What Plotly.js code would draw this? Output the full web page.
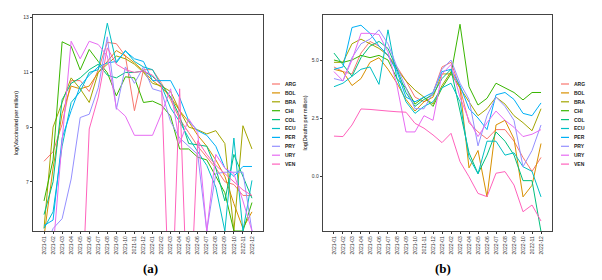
<!DOCTYPE html>
<html><head><meta charset="utf-8">
<script src="https://cdn.plot.ly/plotly-3.0.1.min.js"></script>
<style>html,body{margin:0;padding:0;background:#fff}#chart{width:602px;height:280px}</style>
</head><body><div id="chart"></div>
<script>
const months = ["2021-01","2021-02","2021-03","2021-04","2021-05","2021-06","2021-07","2021-08","2021-09","2021-10","2021-11","2021-12",
                "2022-01","2022-02","2022-03","2022-04","2022-05","2022-06","2022-07","2022-08","2022-09","2022-10","2022-11","2022-12"];
const countries = ["ARG","BOL","BRA","CHI","COL","ECU","PER","PRY","URY","VEN"];
const colors = ["#F8766D","#D89000","#A3A500","#39B600","#00BF7D","#00BFC4","#00B0F6","#9590FF","#E76BF3","#FF62BC"];

// (a) log(Vaccinated per million)
const vaxARG = [7.75,8.1,9.1,10.7,10.7,10.3,11.1,12.1,12.05,11.6,9.6,11.1,11.1,10.6,10.0,9.3,8.8,8.3,7.9,7.5,7.0,6.9,6.5,6.5];
const vaxBOL = [5.0,7.5,9.5,10.5,10.4,10.5,11.0,11.4,11.8,11.6,11.35,11.05,10.7,10.45,10.1,9.6,9.2,8.7,8.3,7.8,7.2,6.2,5.3,5.9];
const vaxBRA = [5.3,9.0,9.9,10.8,10.4,9.9,11.0,11.3,11.6,11.5,11.3,11.0,10.6,10.5,10.3,9.6,9.0,8.9,8.75,8.87,8.4,5.2,9.05,8.2];
const vaxCHI = [6.3,7.8,12.12,11.96,11.09,11.84,11.4,10.99,10.14,10.84,10.8,9.9,9.95,9.8,9.4,8.2,8.2,7.9,7.8,7.2,6.6,5.2,5.2,6.24];
const vaxCOL = [5.8,7.0,10.0,10.6,10.8,11.1,11.3,10.9,10.8,11.0,11.0,11.05,10.85,10.55,10.1,9.4,8.4,8.35,8.3,7.5,6.3,8.0,7.2,6.4];
const vaxECU = [5.3,5.9,8.3,9.9,10.3,11.0,11.1,12.8,11.35,11.8,11.4,11.2,11.1,10.5,9.7,9.2,8.6,8.1,7.6,6.8,5.2,8.6,5.2,7.05];
const vaxPER = [5.4,5.6,8.6,9.6,10.5,10.9,11.2,11.35,11.4,11.78,11.5,11.4,10.7,10.7,10.7,10.08,9.23,8.87,8.7,8.3,7.5,7.2,7.56,7.56];
const vaxPRY = [4.5,5.29,5.65,7.1,9.35,9.47,10.44,12.3,9.65,11.2,10.6,11.2,10.4,10.3,9.2,8.6,8.3,8.0,5.2,7.3,7.35,7.35,7.35,5.2];
const vaxURY = [4.5,4.5,8.5,12.14,11.5,12.14,12.02,11.6,9.7,9.4,8.7,8.7,8.7,9.5,10.4,8.4,9.3,8.8,5.2,8.0,7.5,7.3,6.3,5.2];
const vaxVEN = [1,1,1,1,1,8.93,10.1,11.9,11.3,11.1,11.0,11.05,10.9,10.5,1,10.4,1,8.5,8.0,7.6,7.3,7.0,6.7,6.5];

// (b) log(Deaths per million)
const dthARG = [4.7,4.5,4.4,5.3,5.8,5.6,5.2,4.7,4.1,3.4,3.2,3.6,4.7,4.9,3.8,2.3,1.9,1.6,2.0,2.0,1.5,0.8,0.2,0.8];
const dthBOL = [4.6,4.5,3.9,4.2,4.9,5.1,4.6,4.0,3.3,2.8,3.2,3.4,4.4,4.4,3.8,0.35,1.1,-0.9,2.2,2.4,1.6,-0.9,-0.4,1.4];
const dthBRA = [4.9,4.9,5.7,5.9,5.7,5.5,5.2,4.6,4.1,3.7,3.4,3.1,3.9,4.5,3.8,3.2,2.6,2.9,3.4,3.1,2.6,2.3,1.95,2.9];
const dthCHI = [5.0,4.9,5.0,5.2,5.1,5.2,5.0,4.2,3.8,3.1,3.4,3.0,3.8,4.4,6.54,3.85,3.06,3.35,4.0,3.8,3.6,3.28,3.6,3.6];
const dthCOL = [5.3,4.8,4.3,5.1,5.6,5.8,5.5,4.6,3.6,3.0,3.3,3.5,4.2,4.6,2.8,1.0,0.1,0.9,1.9,1.5,0.9,-0.2,-0.2,-2.4];
const dthECU = [3.85,4.0,4.3,4.6,4.7,3.95,6.3,4.2,3.2,2.7,3.0,3.2,3.8,4.0,3.2,0.8,0.1,1.5,1.5,0.9,1.0,0.4,0.2,-0.9];
const dthPER = [4.6,4.7,6.4,6.5,6.15,5.6,5.2,4.5,3.4,3.2,3.4,3.6,4.5,4.6,3.9,2.9,2.5,2.0,3.5,3.6,3.3,2.7,2.6,3.15];
const dthPRY = [4.2,4.1,5.1,5.7,5.9,6.3,5.7,4.7,3.8,2.9,2.9,3.6,4.6,5.0,4.0,3.3,1.3,2.6,3.4,3.0,2.4,0.4,1.1,2.2];
const dthURY = [4.5,4.1,5.0,6.15,6.15,6.1,5.35,3.9,1.9,1.9,2.6,2.4,4.4,4.8,3.4,2.4,1.7,2.3,2.8,2.4,2.1,1.7,1.8,2.0];
const dthVEN = [1.72,1.70,2.2,2.89,2.87,2.85,2.8,2.77,2.75,2.27,2.06,1.77,1.44,1.84,0.62,-0.03,-0.75,-0.89,0.12,0.19,-0.39,-1.54,-1.25,-1.94];

const vax = [vaxARG,vaxBOL,vaxBRA,vaxCHI,vaxCOL,vaxECU,vaxPER,vaxPRY,vaxURY,vaxVEN];
const dth = [dthARG,dthBOL,dthBRA,dthCHI,dthCOL,dthECU,dthPER,dthPRY,dthURY,dthVEN];

const traces = [];
countries.forEach((c,k)=>{
  traces.push({x:months,y:vax[k],type:'scatter',mode:'lines',name:c,xaxis:'x',yaxis:'y',
    line:{color:colors[k],width:1},showlegend:false,hoverinfo:'skip'});
});
countries.forEach((c,k)=>{
  traces.push({x:months,y:dth[k],type:'scatter',mode:'lines',name:c,xaxis:'x2',yaxis:'y2',
    line:{color:colors[k],width:1},showlegend:false,hoverinfo:'skip'});
});

const W=602,H=280;
const tickFont={family:'Liberation Sans, Arial, sans-serif',size:5,color:'#333'};
function xax(dom,anchor){return {domain:dom,anchor:anchor,type:'category',categoryarray:months,range:[-1.22,24.22],
  tickangle:-90,tickfont:tickFont,ticks:'outside',ticklen:2,tickcolor:'#333',showgrid:false,zeroline:false,
  showline:true,mirror:true,linecolor:'#444',linewidth:1.2,fixedrange:true};}
function yax(dom,anchor,rng,tv,fmt,title){return {domain:dom,anchor:anchor,range:rng,tickvals:tv,tickformat:fmt,
  tickfont:tickFont,ticks:'outside',ticklen:2,tickcolor:'#333',showgrid:false,zeroline:false,
  showline:true,mirror:true,linecolor:'#444',linewidth:1.2,
  title:{text:title,font:{family:'Liberation Sans, Arial, sans-serif',size:5.5,color:'#000'},standoff:4}};}

const ydom=[1-231/H,1-15/H];
const layout={width:W,height:H,margin:{l:0,r:0,t:0,b:0},paper_bgcolor:'#fff',plot_bgcolor:'#fff',showlegend:false,
  xaxis:xax([33/W,263/W],'y'),
  yaxis:yax(ydom,'x',[5.2,13.1],[7,9,11,13],'d','log(Vaccinated per million)'),
  xaxis2:xax([323/W,552/W],'y2'),
  yaxis2:yax(ydom,'x2',[-2.37,6.94],[0,2.5,5],'.1f','log(Deaths per million)'),
  annotations:[],shapes:[]};

function addLegend(x0,y0){
  countries.forEach((c,k)=>{
    const yy=1-(y0+k*8.9)/H;
    layout.shapes.push({type:'line',xref:'paper',yref:'paper',x0:x0/W,x1:(x0+8)/W,y0:yy,y1:yy,line:{color:colors[k],width:1.2}});
    layout.annotations.push({xref:'paper',yref:'paper',x:(x0+11)/W,y:yy,text:'<b>'+c+'</b>',showarrow:false,
      xanchor:'left',yanchor:'middle',font:{family:'Liberation Sans, Arial, sans-serif',size:5,color:'#222'}});
  });
}
addLegend(272,84);
addLegend(561,84);
layout.annotations.push({xref:'paper',yref:'paper',x:150/W,y:1-268/H,text:'<b>(a)</b>',showarrow:false,xanchor:'center',yanchor:'middle',
  font:{family:'Liberation Serif, DejaVu Serif, serif',size:13,color:'#000'}});
layout.annotations.push({xref:'paper',yref:'paper',x:443/W,y:1-268/H,text:'<b>(b)</b>',showarrow:false,xanchor:'center',yanchor:'middle',
  font:{family:'Liberation Serif, DejaVu Serif, serif',size:13,color:'#000'}});

Plotly.newPlot('chart',traces,layout,{staticPlot:true,displayModeBar:false});
</script></body></html>
